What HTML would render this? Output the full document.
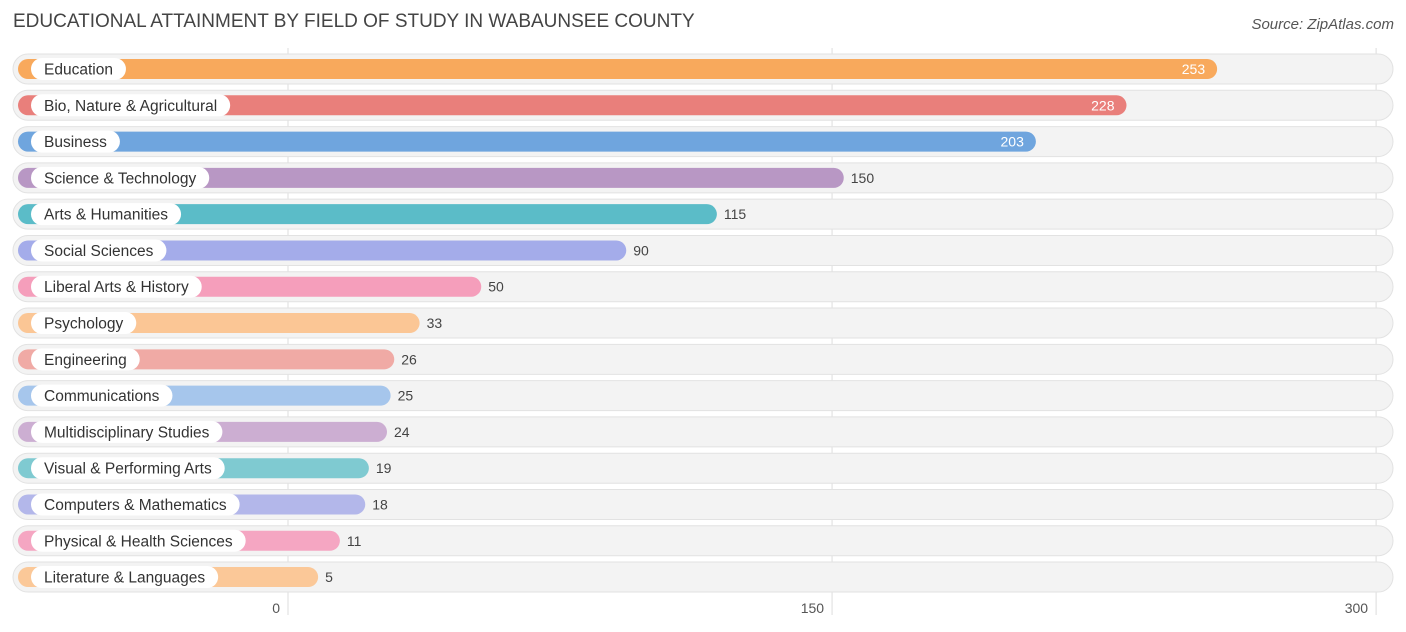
<!DOCTYPE html>
<html><head><meta charset="utf-8"><style>
body{margin:0;width:1406px;height:632px;background:#fff;font-family:"Liberation Sans",sans-serif;overflow:hidden;position:relative}
.t{position:absolute;left:13px;top:11px;font-size:19px;color:#444}
.src{position:absolute;right:12px;top:16px;font-size:15px;color:#555;font-style:italic}
</style></head><body>
<div class="t">EDUCATIONAL ATTAINMENT BY FIELD OF STUDY IN WABAUNSEE COUNTY</div>
<div class="src">Source: ZipAtlas.com</div>
<svg id="c" width="1406" height="632" style="position:absolute;left:0;top:0"></svg>
<script>
const categories=["Education","Bio, Nature & Agricultural","Business","Science & Technology","Arts & Humanities","Social Sciences","Liberal Arts & History","Psychology","Engineering","Communications","Multidisciplinary Studies","Visual & Performing Arts","Computers & Mathematics","Physical & Health Sciences","Literature & Languages"];
const values=[253,228,203,150,115,90,50,33,26,25,24,19,18,11,5];
const colors=["#f8a95c","#e97f7b","#6fa5de","#b897c4","#5bbcc8","#a4acea","#f59ebb","#fbc695","#f0aaa5","#a6c6ec","#ccaed2","#7fcad1","#b3b7ea","#f5a6c2","#fbc898"];
const ticks=[0,150,300];
const NS="http://www.w3.org/2000/svg",svg=document.getElementById('c');
const x=v=>300+v*3.625, gx=v=>288+v*3.627, y=i=>69+i*36.29;
function mk(t,a){const e=document.createElementNS(NS,t);for(const k in a)e.setAttribute(k,a[k]);svg.appendChild(e);return e;}
ticks.forEach(t=>{const l=mk('line',{x1:gx(t),x2:gx(t),y1:48,y2:615,stroke:'#ddd','stroke-width':1});


const tx=mk('text',{x:gx(t)-(t==0?0:0),y:613,'text-anchor':t==0?'end':'end','font-size':14,fill:'#555'});tx.setAttribute('x',gx(t)-8);tx.textContent=t;

});
categories.forEach((c,i)=>{const cy=y(i);
const bg=mk('rect',{x:13,y:cy-15,width:1380,height:30,rx:15,fill:'#f3f3f3',stroke:'#e2e2e2'});


const b=mk('rect',{x:18,y:cy-10,width:x(values[i])-18,height:20,rx:10,fill:colors[i]});


const tmp=mk('text',{x:44,y:cy+5,'font-size':15.5,fill:'#333'});tmp.textContent=c;
const w=tmp.getComputedTextLength();svg.removeChild(tmp);
const lp=mk('rect',{x:31,y:cy-11,width:w+26,height:22,rx:11,fill:'#fff'});


const lt=mk('text',{x:44,y:cy+5.5,'font-size':15.5,fill:'#333'});lt.textContent=c;


const inside=values[i]>=200;
const vt=mk('text',{x:inside?x(values[i])-12:x(values[i])+7,y:cy+5,'font-size':14,'text-anchor':inside?'end':'start',fill:inside?'#fff':'#444'});
vt.textContent=values[i];

});
</script>
</body></html>
